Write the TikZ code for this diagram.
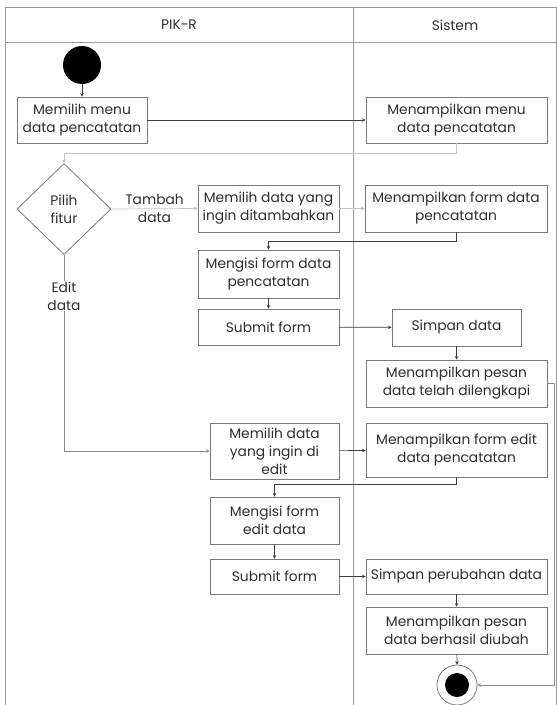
\documentclass[tikz,border=0pt]{standalone}
\usepackage{fontspec}
\setmainfont{Poppins}
\usetikzlibrary{arrows.meta,shapes.geometric}
\definecolor{frame}{HTML}{9A9A9A}
\definecolor{boxline}{HTML}{7A7A7A}
\definecolor{txt}{HTML}{2E2E2E}
\definecolor{darkline}{HTML}{3C3C3C}
\definecolor{lightline}{HTML}{C4C4C4}
\definecolor{midline}{HTML}{8A8A8A}
\tikzset{
  act/.style={draw=boxline, line width=0.8bp, fill=white, rectangle, inner sep=0pt,
    align=center, text=txt, font=\fontsize{13.8bp}{18bp}\selectfont},
  deco/.style={diamond, draw=boxline, line width=0.8bp, inner sep=0pt, align=center,
    text=txt, font=\fontsize{13.8bp}{18bp}\selectfont},
  lbl/.style={align=center, text=txt, inner sep=1bp,
    font=\fontsize{13.8bp}{18bp}\selectfont},
  flow/.style={draw=darkline, line width=0.7bp, -{Stealth[length=3.5bp,width=3.5bp]}},
  flowlight/.style={flow, draw=lightline, -{Stealth[length=3.5bp,width=3.5bp,fill=darkline]}},
  flowmid/.style={flow, draw=midline},
  lane/.style={draw=frame, line width=0.9bp},
}
\begin{document}
\begin{tikzpicture}[x=1bp,y=-1bp]
\useasboundingbox (0,0) rectangle (557,705);

% swimlanes
\draw[lane] (5,705) -- (5,7) -- (556,7) -- (556,705);
\draw[lane] (5,42) -- (556,42);
\draw[lane] (353,7) -- (353,705);
\node[text=txt, font=\fontsize{13.8bp}{15bp}\selectfont] (h1) at (179,25) {PIK-R};
\node[text=txt, font=\fontsize{13.8bp}{15bp}\selectfont] (h2) at (455,25) {Sistem};

% start and end
\node[circle, fill=black, minimum size=38bp, inner sep=0pt] (start) at (82,65) {};
\node[circle, draw=boxline, line width=0.8bp, fill=white, minimum size=40bp, inner sep=0pt] (endo) at (457,685) {};
\node[circle, fill=black, minimum size=24bp, inner sep=0pt] (endi) at (457,685) {};

% activities
\node[act, minimum width=130bp, minimum height=46bp] (a1) at (82,120) {Memilih menu\\data pencatatan};
\node[act, minimum width=181bp, minimum height=46bp] (s1) at (456.5,120) {Menampilkan menu\\data pencatatan};
\node[deco, minimum width=94bp, minimum height=91bp] (dec) at (64,209) {Pilih\\fitur};
\node[act, minimum width=141bp, minimum height=47bp] (a2) at (268.5,208.5) {Memilih data yang\\ingin ditambahkan};
\node[act, minimum width=182bp, minimum height=47bp] (s2) at (456,208.5) {Menampilkan form data\\pencatatan};
\node[act, minimum width=141bp, minimum height=48bp] (a3) at (268.5,274) {Mengisi form data\\pencatatan};
\node[act, minimum width=141bp, minimum height=36bp] (a4) at (268.5,327) {Submit form};
\node[act, minimum width=129bp, minimum height=37bp] (s3) at (456.5,327.5) {Simpan data};
\node[act, minimum width=181bp, minimum height=47bp] (s4) at (456.5,383.5) {Menampilkan pesan\\data telah dilengkapi};
\node[act, minimum width=129bp, minimum height=56bp] (a5) at (274.5,451) {Memilih data\\yang ingin di\\edit};
\node[act, minimum width=181bp, minimum height=54bp] (s5) at (456.5,450) {Menampilkan form edit\\data pencatatan};
\node[act, minimum width=129bp, minimum height=47bp] (a6) at (274.5,520.5) {Mengisi form\\edit data};
\node[act, minimum width=129bp, minimum height=35bp] (a7) at (274.5,576.5) {Submit form};
\node[act, minimum width=181bp, minimum height=35bp] (s6) at (456.5,576.5) {Simpan perubahan data};
\node[act, minimum width=181bp, minimum height=47bp] (s7) at (456.5,630.5) {Menampilkan pesan\\data berhasil diubah};

% bend points
\coordinate (b1) at (456.5,153);
\coordinate (b2) at (64,153);
\coordinate (b3) at (456,241);
\coordinate (b4) at (268.5,241);
\coordinate (b5) at (554,383.5);
\coordinate (b6) at (554,685);
\coordinate (b7) at (64,451);
\coordinate (b8) at (456.5,484);
\coordinate (b9) at (274.5,484);

% flows
\draw[flow] (start) -- (a1);
\draw[flow] (a1) -- (s1);
\draw[flowlight] (s1.south) -- (b1) -- (b2) -- (dec.north);
\draw[flowlight] (dec.east) -- node[lbl, pos=0.5] (t1) {Tambah\\data} (a2.west);
\draw[flowlight] (a2) -- (s2);
\draw[flow] (s2.south) -- (b3) -- (b4) -- (a3.north);
\draw[flow] (a3) -- (a4);
\draw[flow] (a4) -- (s3);
\draw[flow] (s3) -- (s4);
\draw[flowmid] (s4.east) -- (b5) -- (b6) -- (endo.east);
\draw[flowmid] (dec.south) -- (b7) -- (a5.west);
\node[lbl, fill=white] (t2) at (64,296) {Edit\\data};
\draw[flow] (a5) -- (s5);
\draw[flow] (s5.south) -- (b8) -- (b9) -- (a6.north);
\draw[flow] (a6) -- (a7);
\draw[flow] (a7) -- (s6);
\draw[flow] (s6) -- (s7);
\draw[flow] (s7) -- (endo.north);
\end{tikzpicture}
\end{document}
